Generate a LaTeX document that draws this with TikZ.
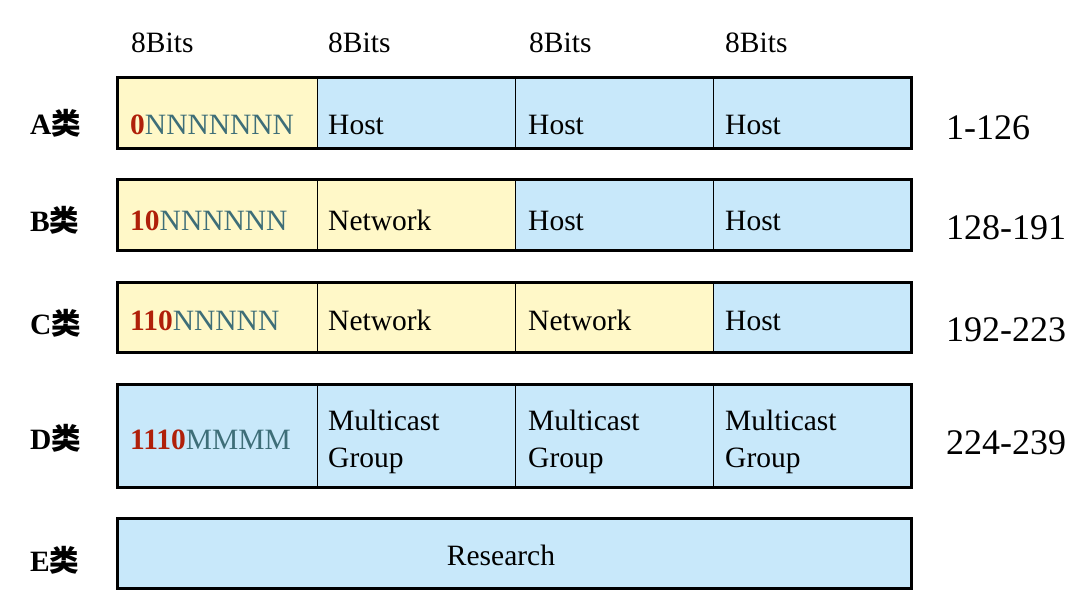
\documentclass[tikz,border=0pt]{standalone}
\usepackage{fontspec}
\setmainfont{Liberation Serif}
\newfontfamily\cjk{Noto Sans CJK SC}
\definecolor{cellyellow}{HTML}{FFF8C8}
\definecolor{cellblue}{HTML}{C8E8FA}
\definecolor{bitred}{HTML}{B0200A}
\definecolor{bitteal}{HTML}{3E6E78}
\newcommand{\cellfont}{\fontsize{29.5}{37}\selectfont}
\newcommand{\numfont}{\fontsize{36}{40}\selectfont}
\newcommand{\bits}[2]{{\bfseries\color{bitred}#1}{\color{bitteal}#2}}
\begin{document}
\begin{tikzpicture}[x=1pt,y=-1pt,
  cell/.style={draw=black, line width=0.9pt, anchor=north west, inner sep=0pt,
    minimum width=#1, minimum height=70pt},
  ycell/.style={cell=#1, fill=cellyellow},
  bcell/.style={cell=#1, fill=cellblue},
  rowframe/.style={draw=black, line width=3pt},
  celltext/.style={anchor=base west, inner sep=0pt, font=\cellfont, align=left},
  toplabel/.style={anchor=base west, inner sep=0pt, font=\cellfont},
  rowlabel/.style={anchor=base west, inner sep=0pt, font=\cellfont\bfseries},
  rangelabel/.style={anchor=base west, inner sep=0pt, font=\numfont}]
\useasboundingbox (0,0) rectangle (1079,604);
\fill[white] (0,0) rectangle (1079,604);

% column headers
\node[toplabel] (h1) at (131,53) {8Bits};
\node[toplabel] (h2) at (328,53) {8Bits};
\node[toplabel] (h3) at (529,53) {8Bits};
\node[toplabel] (h4) at (725,53) {8Bits};

% Class A
\node[ycell=200pt] (a1) at (117,78) {};
\node[bcell=198pt] (a2) at (317,78) {};
\node[bcell=198pt] (a3) at (515,78) {};
\node[bcell=198pt] (a4) at (713,78) {};
\draw[rowframe] (a1.north west) rectangle (a4.south east);
\node[celltext] (ta1) at (130,135) {\bits{0}{NNNNNNN}};
\node[celltext] (ta2) at (328,135) {Host};
\node[celltext] (ta3) at (528,135) {Host};
\node[celltext] (ta4) at (725,135) {Host};

% Class B
\node[ycell=200pt] (b1) at (117,180) {};
\node[ycell=198pt] (b2) at (317,180) {};
\node[bcell=198pt] (b3) at (515,180) {};
\node[bcell=198pt] (b4) at (713,180) {};
\draw[rowframe] (b1.north west) rectangle (b4.south east);
\node[celltext] (tb1) at (130,230) {\bits{10}{NNNNNN}};
\node[celltext] (tb2) at (328,230) {Network};
\node[celltext] (tb3) at (528,230) {Host};
\node[celltext] (tb4) at (725,230) {Host};

% Class C
\node[ycell=200pt] (c1) at (117,282) {};
\node[ycell=198pt] (c2) at (317,282) {};
\node[ycell=198pt] (c3) at (515,282) {};
\node[bcell=198pt] (c4) at (713,282) {};
\draw[rowframe] (c1.north west) rectangle (c4.south east);
\node[celltext] (tc1) at (130,330) {\bits{110}{NNNNN}};
\node[celltext] (tc2) at (328,330) {Network};
\node[celltext] (tc3) at (528,330) {Network};
\node[celltext] (tc4) at (725,330) {Host};

% Class D
\node[bcell=200pt, minimum height=103pt] (d1) at (117,384) {};
\node[bcell=198pt, minimum height=103pt] (d2) at (317,384) {};
\node[bcell=198pt, minimum height=103pt] (d3) at (515,384) {};
\node[bcell=198pt, minimum height=103pt] (d4) at (713,384) {};
\draw[rowframe] (d1.north west) rectangle (d4.south east);
\node[celltext] (td1) at (130,449) {\bits{1110}{MMMM}};
\node[celltext] (td2) at (328,430) {Multicast};
\node[celltext] (td2b) at (328,467) {Group};
\node[celltext] (td3) at (528,430) {Multicast};
\node[celltext] (td3b) at (528,467) {Group};
\node[celltext] (td4) at (725,430) {Multicast};
\node[celltext] (td4b) at (725,467) {Group};

% Class E
\node[bcell=794pt] (e1) at (117,518) {};
\draw[rowframe] (e1.north west) rectangle (e1.south east);
\node[celltext, anchor=base] (te1) at (501,565) {Research};

% row labels
\node[rowlabel] (la) at (30,135) {A{\cjk\bfseries 类}};
\node[rowlabel] (lb) at (30,232) {B{\cjk\bfseries 类}};
\node[rowlabel] (lc) at (30,334) {C{\cjk\bfseries 类}};
\node[rowlabel] (ld) at (30,449) {D{\cjk\bfseries 类}};
\node[rowlabel] (le) at (30,571) {E{\cjk\bfseries 类}};

% ranges
\node[rangelabel] (ra) at (946,140) {1-126};
\node[rangelabel] (rb) at (946,240) {128-191};
\node[rangelabel] (rc) at (946,341) {192-223};
\node[rangelabel] (rd) at (946,454) {224-239};
\end{tikzpicture}
\end{document}
